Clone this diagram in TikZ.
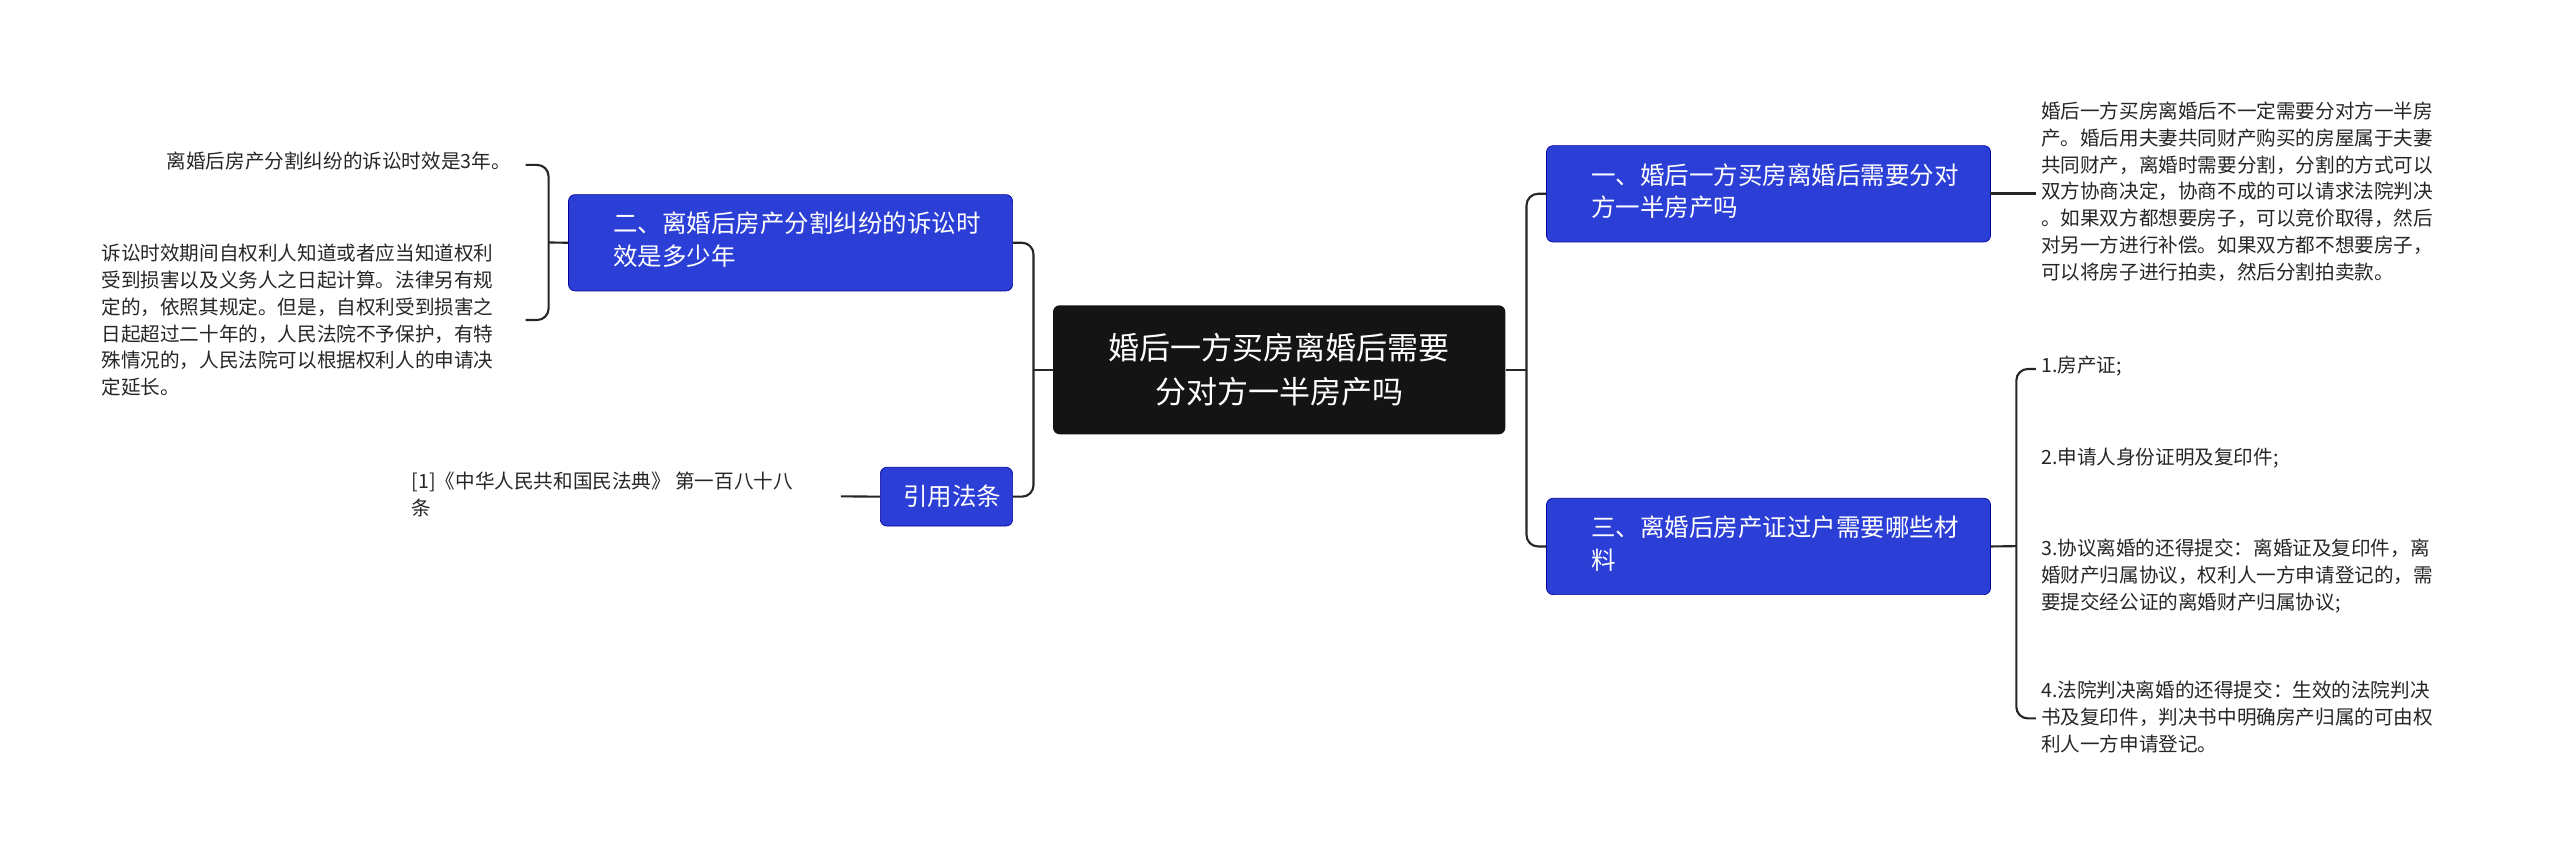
\documentclass[tikz,border=0pt]{standalone}
\usepackage{fontspec}
\setmainfont{Noto Sans CJK SC}
\begin{document}
\begin{tikzpicture}[x=1pt,y=-1pt,
  conn/.style={draw=black!85,line width=1.3pt,rounded corners=7pt},
  branch/.style={draw=blue!60!black,fill={rgb,255:red,43;green,62;blue,214},rounded corners=4pt,text=white,font=\fontsize{15}{20}\selectfont,align=left,anchor=north west,inner sep=0pt},
  leaf/.style={anchor=north west,align=left,inner sep=0pt,font=\fontsize{12}{16.5}\selectfont,text=black!85}]
\useasboundingbox (0,0) rectangle (1568,531);
\node[fill=black!92,rounded corners=4pt,minimum width=277pt,minimum height=79pt,text=white,align=center,font=\fontsize{19}{27}\selectfont] (c) at (783.5,226.5) {婚后一方买房离婚后需要\\分对方一半房产吗};
\node[branch,minimum width=272pt,minimum height=59pt] (b1) at (947,89) {\hspace{8pt}\begin{tabular}{@{}l@{}}一、婚后一方买房离婚后需要分对\\方一半房产吗\end{tabular}};
\node[branch,minimum width=272pt,minimum height=59pt] (b3) at (947,305) {\hspace{8pt}\begin{tabular}{@{}l@{}}三、离婚后房产证过户需要哪些材\\料\end{tabular}};
\node[branch,minimum width=272pt,minimum height=59pt] (b2) at (348,119) {\hspace{8pt}\begin{tabular}{@{}l@{}}二、离婚后房产分割纠纷的诉讼时\\效是多少年\end{tabular}};
\node[branch,minimum width=81pt,minimum height=36pt,align=center] (b4) at (539,286) {\hspace{7pt}引用法条};
\node[leaf] (l1) at (1250,62) {婚后一方买房离婚后不一定需要分对方一半房\\产。婚后用夫妻共同财产购买的房屋属于夫妻\\共同财产，离婚时需要分割，分割的方式可以\\双方协商决定，协商不成的可以请求法院判决\\。如果双方都想要房子，可以竞价取得，然后\\对另一方进行补偿。如果双方都不想要房子，\\可以将房子进行拍卖，然后分割拍卖款。};
\node[leaf] (r1) at (1250,218) {1.房产证;};
\node[leaf] (r2) at (1250,274) {2.申请人身份证明及复印件;};
\node[leaf] (r3) at (1250,330) {3.协议离婚的还得提交：离婚证及复印件，离\\婚财产归属协议，权利人一方申请登记的，需\\要提交经公证的离婚财产归属协议;};
\node[leaf] (r4) at (1250,417) {4.法院判决离婚的还得提交：生效的法院判决\\书及复印件，判决书中明确房产归属的可由权\\利人一方申请登记。};
\node[leaf,anchor=north east] (ll1) at (313,93) {离婚后房产分割纠纷的诉讼时效是3年。};
\node[leaf] (ll2) at (62,149) {诉讼时效期间自权利人知道或者应当知道权利\\受到损害以及义务人之日起计算。法律另有规\\定的，依照其规定。但是，自权利受到损害之\\日起超过二十年的，人民法院不予保护，有特\\殊情况的，人民法院可以根据权利人的申请决\\定延长。};
\node[leaf] (ll3) at (252,289) {[1]《中华人民共和国民法典》 第一百八十八\\条};
\coordinate (rj) at (935,226.5);
\coordinate (lj) at (633,226.5);
\draw[conn] (c.east) -- (rj);
\draw[conn] (rj) |- (b1.west);
\draw[conn] (rj) |- (b3.west);
\draw[conn] (c.west) -- (lj);
\draw[conn] (lj) |- (b2.east);
\draw[conn] (lj) |- (b4.east);
\coordinate (rk) at (1235,334.5);
\draw[conn] (b3.east) -- (rk);
\draw[conn] (1247,226) -| (rk) |- (1247,440);
\draw[conn] (1219,118.5) -- (1247,118.5);
\coordinate (lk) at (336,148.5);
\draw[conn] (b2.west) -- (lk);
\draw[conn] (322,101) -| (lk) |- (322,196);
\draw[conn] (b4.west) -- (515,304);
\end{tikzpicture}
\end{document}
